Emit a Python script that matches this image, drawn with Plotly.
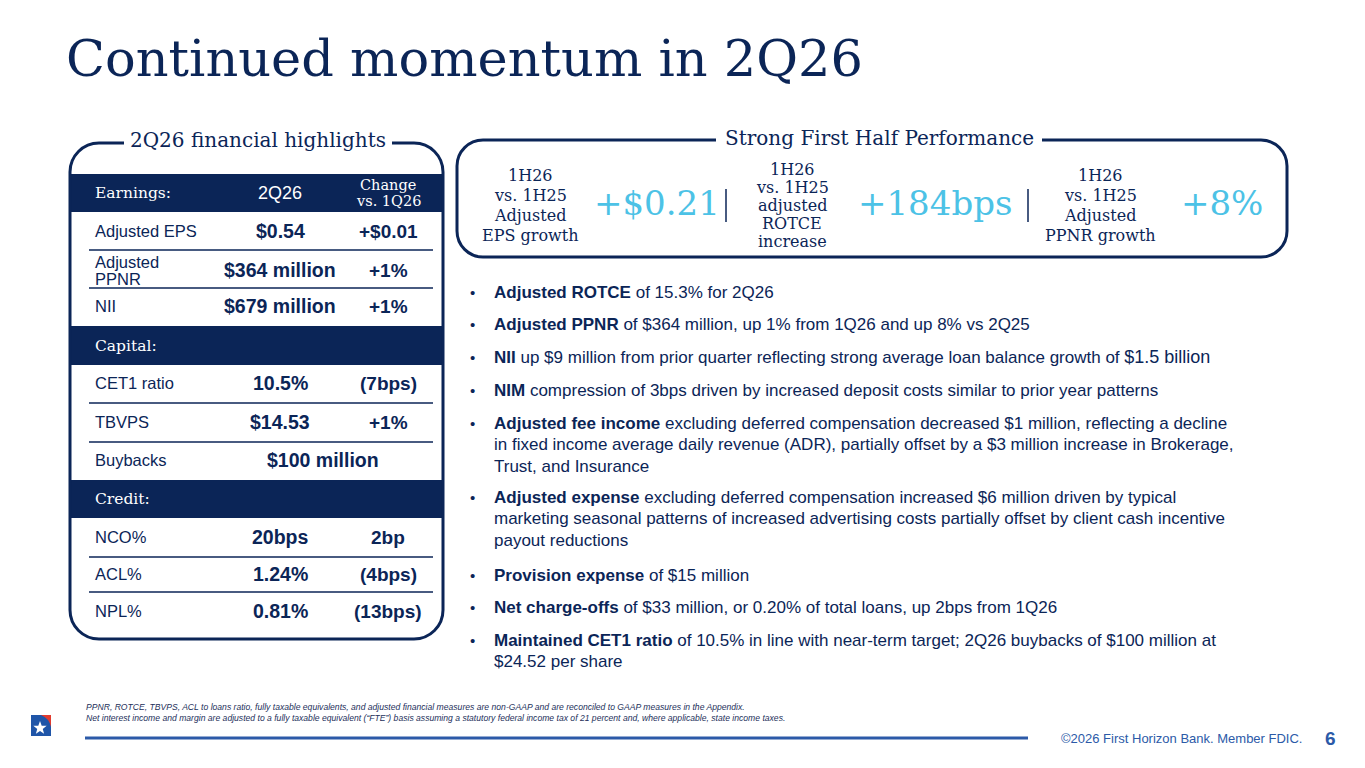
import math
import plotly.graph_objects as go

NAVY = "#0b2557"
CYAN = "#4cc2e6"
FOOTBLUE = "#2c5aa8"
SLAB = "DejaVu Serif"
SANS = "Arial, Liberation Sans"

title = "Continued momentum in 2Q26"

# left table
sections = ["Earnings:", "Capital:", "Credit:"]
row_labels = ["Adjusted EPS", "Adjusted<br>PPNR", "NII",
              "CET1 ratio", "TBVPS", "Buybacks",
              "NCO%", "ACL%", "NPL%"]
row_values = ["$0.54", "$364 million", "$679 million",
              "10.5%", "$14.53", "$100 million",
              "20bps", "1.24%", "0.81%"]
row_changes = ["+$0.01", "+1%", "+1%",
               "(7bps)", "+1%", "",
               "2bp", "(4bps)", "(13bps)"]

# right panel
kpi_labels = ["1H26<br>vs. 1H25<br>Adjusted<br>EPS growth",
              "1H26<br>vs. 1H25<br>adjusted<br>ROTCE<br>increase",
              "1H26<br>vs. 1H25<br>Adjusted<br>PPNR growth"]
kpi_values = ["+$0.21", "+184bps", "+8%"]

bullets = [
    ["<b>Adjusted ROTCE</b> of 15.3% for 2Q26"],
    ["<b>Adjusted PPNR</b> of $364 million, up 1% from 1Q26 and up 8% vs 2Q25"],
    ["<b>NII</b> up $9 million from prior quarter reflecting strong average loan balance growth of <span style='font-size:18px'>$1.5 billion</span>"],
    ["<b>NIM</b> compression of 3bps driven by increased deposit costs similar to prior year patterns"],
    ["<b>Adjusted fee income</b> excluding deferred compensation decreased $1 million, reflecting a decline",
     "in fixed income average daily revenue (ADR), partially offset by a $3 million increase in Brokerage,",
     "Trust, and Insurance"],
    ["<b>Adjusted expense</b> excluding deferred compensation increased $6 million driven by typical",
     "marketing seasonal patterns of increased advertising costs partially offset by client cash incentive",
     "payout reductions"],
    ["<b>Provision expense</b> of $15 million"],
    ["<b>Net charge-offs</b> of $33 million, or 0.20% of total loans, up 2bps from 1Q26"],
    ["<b>Maintained CET1 ratio</b> of 10.5% in line with near-term target; 2Q26 buybacks of $100 million at",
     "$24.52 per share"],
]

footnotes = [
    "PPNR, ROTCE, TBVPS, ACL to loans ratio, fully taxable equivalents, and adjusted financial measures are non-GAAP and are reconciled to GAAP measures in the Appendix.",
    "Net interest income and margin are adjusted to a fully taxable equivalent (\u201cFTE\u201d) basis assuming a statutory federal income tax of 21 percent and, where applicable, state income taxes.",
]
copyright_text = "\u00a92026 First Horizon Bank. Member FDIC."
page_no = "6"

fig = go.Figure()
shapes = []
ann = []


def text(x, y, s, size, color=NAVY, family=SANS, xanchor="left", **kw):
    ann.append(dict(x=x, y=y, text=s, showarrow=False, xanchor=xanchor, yanchor="middle",
                    font=dict(size=size, color=color, family=family), **kw))


def open_box(x0, y0, x1, y1, r, gl, gr, width):
    k = 0.5523 * r
    p = (f"M {gl},{y0} L {x0 + r},{y0} C {x0 + r - k},{y0} {x0},{y0 + r - k} {x0},{y0 + r} "
         f"L {x0},{y1 - r} C {x0},{y1 - r + k} {x0 + r - k},{y1} {x0 + r},{y1} "
         f"L {x1 - r},{y1} C {x1 - r + k},{y1} {x1},{y1 - r + k} {x1},{y1 - r} "
         f"L {x1},{y0 + r} C {x1},{y0 + r - k} {x1 - r + k},{y0} {x1 - r},{y0} L {gr},{y0}")
    shapes.append(dict(type="path", path=p, line=dict(color=NAVY, width=width), layer="above"))


# title
text(64, 58, title, 51, family=SLAB)

# ---- left table ----
band_y = [(174, 212), (326, 365), (480, 518)]
for (b0, b1), s in zip(band_y, sections):
    shapes.append(dict(type="rect", x0=70, x1=443, y0=b0, y1=b1, fillcolor=NAVY, line=dict(width=0)))
    text(93, (b0 + b1) / 2, s, 15.5, color="white", family=SLAB)
text(280, 193, "2Q26", 18, color="white", xanchor="center")
text(388, 185, "Change", 14.5, color="white", family=SLAB, xanchor="center")
text(388, 201, "vs. 1Q26", 14.5, color="white", family=SLAB, xanchor="center")

row_y = [231, 270, 306, 383, 422, 460, 537, 574, 611]
for y, lab, val, chg in zip(row_y, row_labels, row_values, row_changes):
    parts = lab.split("<br>")
    y0 = y - 8.5 * (len(parts) - 1)
    for j, p in enumerate(parts):
        text(93, y0 + 17 * j, p, 16.5)
    if chg:
        text(280, y, f"<b>{val}</b>", 19.5, xanchor="center")
        text(388, y, f"<b>{chg}</b>", 19, xanchor="center")
    else:
        text(323, y, f"<b>{val}</b>", 19.5, xanchor="center")

for y in [250, 288, 403, 442, 557, 592]:
    shapes.append(dict(type="line", x0=89, x1=433, y0=y, y1=y, line=dict(color=NAVY, width=1.5)))

open_box(70, 143, 443, 639, 29, 124, 392, 3)
text(258, 140, "2Q26 financial highlights", 20, family=SLAB, xanchor="center")

# ---- right panel ----
open_box(457, 140, 1287, 257, 26, 716, 1042, 3)
text(879, 138, "Strong First Half Performance", 20, family=SLAB, xanchor="center")

label_x = [530, 792, 1100]
value_x = [657, 935, 1222]
for lx, lab, vx, val in zip(label_x, kpi_labels, value_x, kpi_values):
    parts = lab.split("<br>")
    step = 20 if len(parts) == 4 else 18
    y0 = 205 - step * (len(parts) - 1) / 2
    for j, p in enumerate(parts):
        text(lx, y0 + step * j, p, 16, family=SLAB, xanchor="center")
    text(vx, 203, val, 34, color=CYAN, family=SLAB, xanchor="center")
for sx in [726, 1028]:
    shapes.append(dict(type="line", x0=sx, x1=sx, y0=189, y1=222, line=dict(color=NAVY, width=1.5)))

# ---- bullets ----
bullet_y = [292, 324, 357, 390, 423, 497, 575, 607, 640]
for by, lines in zip(bullet_y, bullets):
    text(468, by, "\u2022", 15)
    for j, ln in enumerate(lines):
        text(492, by + j * 21.7, ln, 17)

# ---- footer ----
text(84, 707, f"<i>{footnotes[0]}</i>", 8.6, color="#1c2f5a")
text(84, 718, f"<i>{footnotes[1]}</i>", 8.6, color="#1c2f5a")
shapes.append(dict(type="line", x0=85, x1=1028, y0=738, y1=738, line=dict(color=FOOTBLUE, width=3)))
text(1304, 738, copyright_text, 13, color=FOOTBLUE, xanchor="right")
text(1330, 738, f"<b>{page_no}</b>", 19, color=FOOTBLUE, xanchor="center")

# logo
shapes.append(dict(type="rect", x0=31, x1=51, y0=715, y1=736, fillcolor="#1f55a8", line=dict(width=0)))
shapes.append(dict(type="path", path="M 41,715 L 51,715 L 51,727 Q 49,718 41,715 Z",
                   fillcolor="#e23b2e", line=dict(width=0)))
cx, cy, ro, ri = 40, 728, 7, 2.9
pts = []
for k in range(10):
    a = -math.pi / 2 + k * math.pi / 5
    rr = ro if k % 2 == 0 else ri
    pts.append(f"{cx + rr * math.cos(a):.2f},{cy + rr * math.sin(a):.2f}")
shapes.append(dict(type="path", path="M " + " L ".join(pts) + " Z", fillcolor="white", line=dict(width=0)))

# the page body has an 8px margin, so the plot starts at (8, 8)
fig.update_layout(
    width=1357, height=760,
    margin=dict(l=0, r=0, t=0, b=0),
    paper_bgcolor="white", plot_bgcolor="white",
    xaxis=dict(range=[8, 1365], visible=False, fixedrange=True),
    yaxis=dict(range=[768, 8], visible=False, fixedrange=True),
    shapes=shapes, annotations=ann, showlegend=False,
)
fig.write_html("out.html")
